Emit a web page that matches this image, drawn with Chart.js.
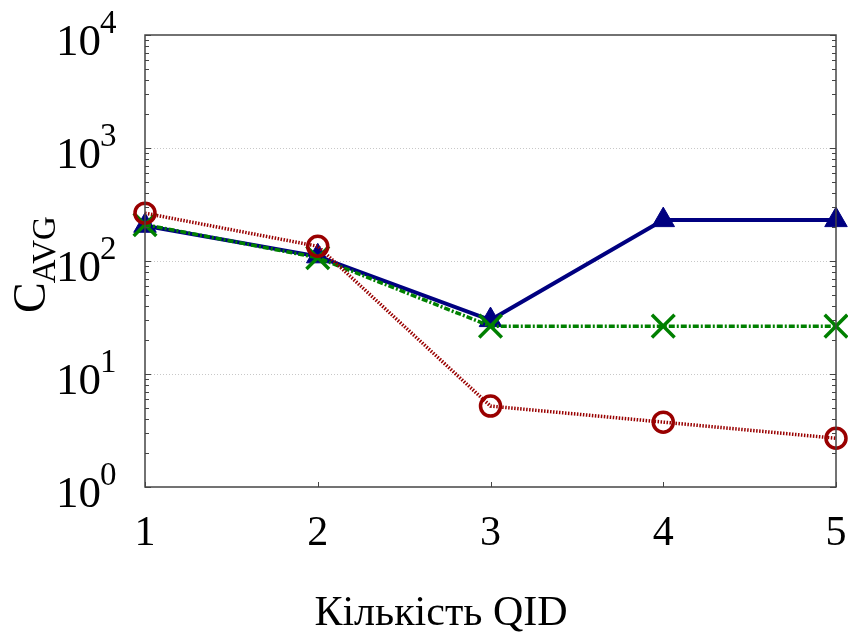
<!DOCTYPE html>
<html>
<head>
<meta charset="utf-8">
<script src="https://cdn.jsdelivr.net/npm/chart.js@4"></script>
<style>
html,body{margin:0;padding:0;background:#fff;}
#wrap{width:848px;height:635px;}
</style>
</head>
<body>
<div id="wrap"><canvas id="c" width="848" height="635"></canvas></div>
<script>
const categories = [1, 2, 3, 4, 5];
const seriesBlue = [205, 110, 30, 230, 230];
const seriesGreen = [210, 107, 26.5, 26.5, 26.5];
const seriesRed = [265, 135, 5.2, 3.75, 2.7];
const yTickExponents = [0, 1, 2, 3, 4];
const xTitle = 'Кількість QID';
const yTitleMain = 'C';
const yTitleSub = 'AVG';

const FONT = '"Liberation Serif", "Times New Roman", serif';

function toPts(arr){ return arr.map((v,i)=>({x:categories[i], y:v})); }

const decorPlugin = {
  id: 'decor',
  afterDatasetsDraw(chart){
    const ctx = chart.ctx, a = chart.chartArea;
    const xs = chart.scales.x, ys = chart.scales.y;
    ctx.save();
    ctx.strokeStyle = '#444';
    ctx.lineWidth = 1.5;
    ctx.setLineDash([]);
    ctx.strokeRect(a.left, a.top, a.right - a.left, a.bottom - a.top);
    ctx.lineWidth = 1;
    ys.ticks.forEach(t => {
      const v = t.value;
      const lg = Math.log10(v);
      const major = Math.abs(lg - Math.round(lg)) < 1e-9;
      const len = major ? 6 : 4;
      const y = Math.round(ys.getPixelForValue(v)) + 0.5;
      ctx.beginPath();
      ctx.moveTo(a.left, y); ctx.lineTo(a.left + len, y);
      ctx.moveTo(a.right, y); ctx.lineTo(a.right - len, y);
      ctx.stroke();
    });
    xs.ticks.forEach(t => {
      const x = Math.round(xs.getPixelForValue(t.value)) + 0.5;
      ctx.beginPath();
      ctx.moveTo(x, a.bottom); ctx.lineTo(x, a.bottom - 5);
      ctx.stroke();
    });
    ctx.restore();
  },
  afterDraw(chart){
    const ctx = chart.ctx, a = chart.chartArea;
    const xs = chart.scales.x, ys = chart.scales.y;
    ctx.save();
    ctx.fillStyle = '#000';
    yTickExponents.forEach(k => {
      const y = ys.getPixelForValue(Math.pow(10, k));
      ctx.font = '45px ' + FONT;
      ctx.textAlign = 'right';
      ctx.textBaseline = 'alphabetic';
      ctx.fillText('10', 101, y + 20);
      ctx.font = '33px ' + FONT;
      ctx.textAlign = 'left';
      ctx.fillText(String(k), 100, y - 2);
    });
    ctx.font = '42px ' + FONT;
    ctx.textAlign = 'center';
    ctx.textBaseline = 'alphabetic';
    xs.ticks.forEach(t => {
      ctx.fillText(String(t.value), xs.getPixelForValue(t.value), 545);
    });
    ctx.font = '42px ' + FONT;
    ctx.fillText(xTitle, 441, 625);
    ctx.translate(45, 313);
    ctx.rotate(-Math.PI / 2);
    ctx.textAlign = 'left';
    ctx.font = '46px ' + FONT;
    ctx.fillText(yTitleMain, 0, 0);
    const w = ctx.measureText(yTitleMain).width;
    ctx.font = '33px ' + FONT;
    ctx.fillText(yTitleSub, w - 1, 10);
    ctx.restore();
  }
};

new Chart(document.getElementById('c'), {
  type: 'line',
  data: {
    datasets: [
      {
        label: 'blue',
        data: toPts(seriesBlue),
        borderColor: '#000080',
        backgroundColor: '#000080',
        borderWidth: 4,
        pointStyle: 'triangle',
        pointRadius: 13,
        pointBorderWidth: 1,
        pointBorderColor: '#000080',
        pointBackgroundColor: '#000080',
        tension: 0,
        clip: false,
        order: 3
      },
      {
        label: 'green',
        data: toPts(seriesGreen),
        borderColor: '#008000',
        backgroundColor: '#008000',
        borderWidth: 3.5,
        borderDash: [6, 2, 2, 2],
        pointStyle: 'crossRot',
        pointRadius: 16,
        pointBorderWidth: 3.5,
        pointBorderColor: '#008000',
        tension: 0,
        clip: false,
        order: 2
      },
      {
        label: 'red',
        data: toPts(seriesRed),
        borderColor: '#990000',
        backgroundColor: 'rgba(0,0,0,0)',
        borderWidth: 3.5,
        borderDash: [1.5, 1.5],
        pointStyle: 'circle',
        pointRadius: 10,
        pointBorderWidth: 3.5,
        pointBorderColor: '#990000',
        pointBackgroundColor: 'rgba(0,0,0,0)',
        tension: 0,
        clip: false,
        order: 1
      }
    ]
  },
  options: {
    responsive: false,
    animation: false,
    devicePixelRatio: 1,
    layout: { autoPadding: false, padding: { left: 145, right: 12, top: 35, bottom: 148 } },
    plugins: { legend: { display: false }, tooltip: { enabled: false } },
    scales: {
      x: {
        type: 'linear',
        min: 1, max: 5,
        ticks: { display: false, stepSize: 1 },
        grid: { display: false, drawTicks: false },
        border: { display: false }
      },
      y: {
        type: 'logarithmic',
        min: 1, max: 10000,
        afterBuildTicks(scale){
          const t = [];
          for (let k = 0; k < 4; k++) for (let m = 1; m <= 9; m++) t.push({value: m * Math.pow(10, k)});
          t.push({value: 10000});
          scale.ticks = t;
        },
        ticks: { display: false },
        grid: {
          drawTicks: false,
          lineWidth: 1,
          color(ctx){
            const v = ctx.tick ? ctx.tick.value : 0;
            return (v === 10 || v === 100 || v === 1000) ? '#c8c8c8' : 'rgba(0,0,0,0)';
          }
        },
        border: { display: false, dash: [1, 2] }
      }
    }
  },
  plugins: [decorPlugin]
});
</script>
</body>
</html>
